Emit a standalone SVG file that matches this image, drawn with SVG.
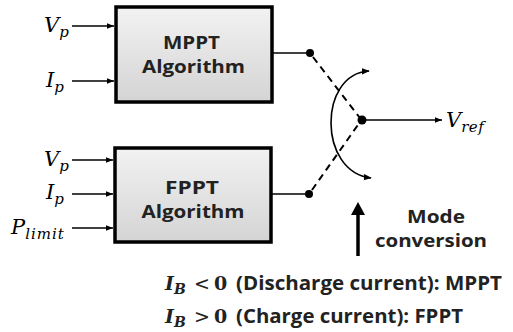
<svg xmlns="http://www.w3.org/2000/svg" width="513" height="332" viewBox="0 0 513 332">
<defs>
<linearGradient id="g" x1="0" y1="0" x2="0" y2="1">
<stop offset="0" stop-color="#f2f2f2"/>
<stop offset="1" stop-color="#d4d4d4"/>
</linearGradient>
<marker id="ah" viewBox="0 0 10 10" refX="10" refY="5" markerWidth="7" markerHeight="7" markerUnits="userSpaceOnUse" orient="auto">
<path d="M0,1 L10,5 L0,9 z" fill="#000"/>
</marker>
<marker id="ahb" viewBox="0 0 10 10" refX="9" refY="5" markerWidth="8" markerHeight="8" markerUnits="userSpaceOnUse" orient="auto-start-reverse">
<path d="M0,1 L10,5 L0,9 z" fill="#000"/>
</marker>
</defs>
<style>
.box{fill:url(#g);stroke:#000;stroke-width:3.5}
.lbl{font-family:"Open Sans","Noto Sans","DejaVu Sans",sans-serif;font-weight:bold;font-size:18.5px;text-anchor:middle;fill:#222}
.math{font-family:"DejaVu Serif","Liberation Serif",serif;font-style:italic;font-size:21px;fill:#000}
.sub{font-size:15px}
.ln{stroke:#000;stroke-width:1.6;fill:none}
.dash{stroke:#000;stroke-width:2;fill:none;stroke-dasharray:7,5}
.txt{font-family:"Open Sans","Noto Sans","DejaVu Sans",sans-serif;font-weight:bold;font-size:19px;fill:#222}
.bm{font-family:"DejaVu Serif","Liberation Serif",serif;font-size:19px;fill:#222}
</style>
<g id="mppt">
<rect class="box" x="116" y="7" width="156" height="95"/>
<text class="lbl" x="191.5" y="48.5" textLength="57" lengthAdjust="spacingAndGlyphs">MPPT</text>
<text class="lbl" x="193.5" y="73" textLength="103" lengthAdjust="spacingAndGlyphs">Algorithm</text>
</g>
<g id="fppt">
<rect class="box" x="115" y="148" width="156" height="94"/>
<text class="lbl" x="192" y="193.5" textLength="54" lengthAdjust="spacingAndGlyphs">FPPT</text>
<text class="lbl" x="193" y="217.5" textLength="103" lengthAdjust="spacingAndGlyphs">Algorithm</text>
</g>
<g id="inputs">
<text class="math" x="44" y="32">V<tspan class="sub" dy="5">p</tspan></text>
<text class="math" x="46" y="87">I<tspan class="sub" dy="5">p</tspan></text>
<text class="math" x="44" y="166">V<tspan class="sub" dy="5">p</tspan></text>
<text class="math" x="46" y="199">I<tspan class="sub" dy="5">p</tspan></text>
<text class="math" x="11" y="234">P<tspan class="sub" dy="5" letter-spacing="1">limit</tspan></text>
<text class="math" x="446" y="127">V<tspan class="sub" dy="5" letter-spacing="0.5">ref</tspan></text>
</g>
<g id="connectors">
<line class="ln" x1="72" y1="26" x2="114" y2="26" marker-end="url(#ah)"/>
<line class="ln" x1="72" y1="81" x2="114" y2="81" marker-end="url(#ah)"/>
<line class="ln" x1="72" y1="160" x2="113" y2="160" marker-end="url(#ah)"/>
<line class="ln" x1="72" y1="194" x2="113" y2="194" marker-end="url(#ah)"/>
<line class="ln" x1="72" y1="228" x2="113" y2="228" marker-end="url(#ah)"/>
<line class="ln" x1="273" y1="53" x2="310" y2="53"/>
<line class="ln" x1="272" y1="194" x2="309" y2="194"/>
<circle cx="310" cy="53" r="4"/>
<circle cx="309" cy="194" r="4"/>
<line class="dash" x1="313" y1="57" x2="360" y2="118"/>
<line class="dash" x1="312" y1="190" x2="360" y2="122"/>
<circle cx="362" cy="120" r="4.5"/>
<line class="ln" x1="362" y1="120" x2="442" y2="120" marker-end="url(#ah)"/>
<path class="ln" d="M369,71 C318,74 318,172 371,178" marker-start="url(#ahb)" marker-end="url(#ahb)"/>
<line x1="358" y1="256" x2="358" y2="212" stroke="#000" stroke-width="3.5"/>
<path d="M351,215 L358,202 L365,215 z" fill="#000"/>
</g>
<g id="mode">
<text class="lbl" x="436" y="223" textLength="58" lengthAdjust="spacingAndGlyphs">Mode</text>
<text class="lbl" x="431" y="247" textLength="112" lengthAdjust="spacingAndGlyphs">conversion</text>
</g>
<g id="legend">
<text class="bm" x="165" y="290" font-weight="bold" font-style="italic">I<tspan font-size="14" dy="4">B</tspan></text>
<text class="bm" x="194" y="290">&lt;</text>
<text class="bm" x="214" y="290" font-weight="bold">0</text>
<text class="txt" x="236" y="290" textLength="266" lengthAdjust="spacingAndGlyphs">(Discharge current): MPPT</text>
<text class="bm" x="165" y="323" font-weight="bold" font-style="italic">I<tspan font-size="14" dy="4">B</tspan></text>
<text class="bm" x="194" y="323">&gt;</text>
<text class="bm" x="214" y="323" font-weight="bold">0</text>
<text class="txt" x="236" y="323" textLength="227" lengthAdjust="spacingAndGlyphs">(Charge current): FPPT</text>
</g>
</svg>
